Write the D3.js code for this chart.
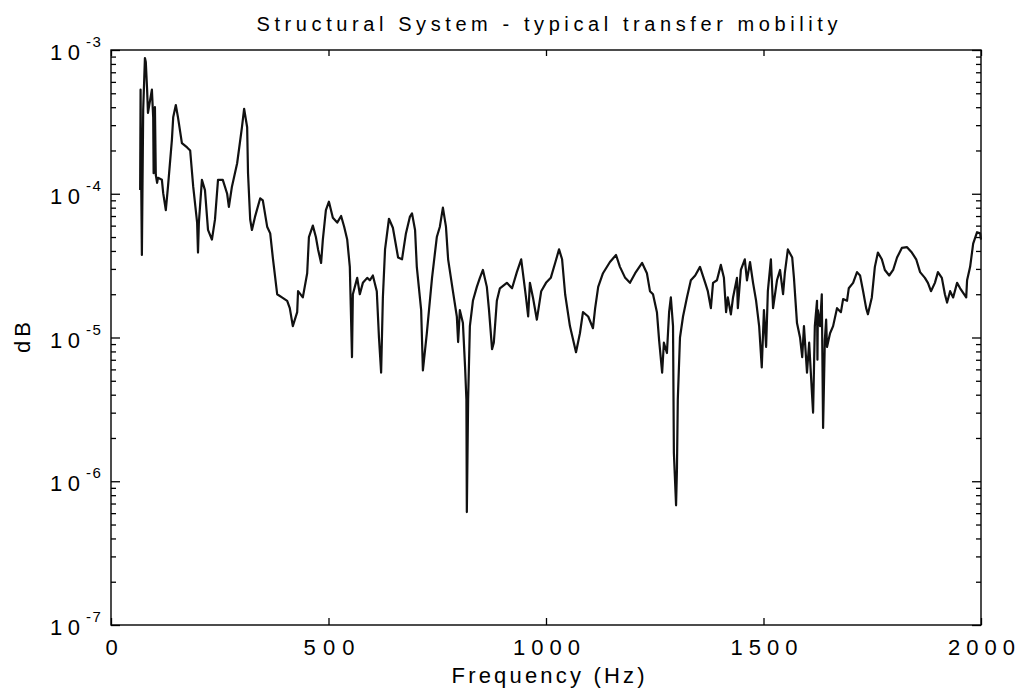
<!DOCTYPE html>
<html>
<head>
<meta charset="utf-8">
<script src="https://cdn.jsdelivr.net/npm/d3@7"></script>
<style>
  html, body { margin: 0; padding: 0; background: #fff; }
  svg { display: block; }
  text { font-family: "Liberation Sans", Arial, Helvetica, sans-serif; fill: #000; }
</style>
</head>
<body>
<svg id="chart" width="1018" height="692"></svg>
<script>
// ---- data ----
const titleText = "Structural System - typical transfer mobility";
const xLabelText = "Frequency (Hz)";
const yLabelText = "dB";
const xTickValues = [0, 500, 1000, 1500, 2000];
const yDecades = [1e-7, 1e-6, 1e-5, 1e-4, 1e-3];
const yDecadeExponents = [-7, -6, -5, -4, -3];

const freq = [
  67,68,69,71,74,78,80,83,85,90,
  94,97,98,101,103,106,108,117,120,126,
  131,140,143,149,154,163,175,182,189,198,
  200,202,209,216,223,232,239,246,257,267,
  271,278,290,301,306,313,315,320,324,331,
  343,349,359,366,372,382,393,405,411,418,
  428,430,441,451,455,464,471,476,483,487,
  494,501,510,520,529,536,543,549,554,556,
  566,572,579,589,595,602,611,616,621,625,
  630,639,648,660,669,678,687,692,699,703,
  713,717,726,738,749,756,763,770,775,786,
  795,798,802,809,814,817,818,821,825,832,
  841,848,855,864,869,876,880,887,894,910,
  922,933,943,947,954,959,963,970,979,989,
  1000,1011,1021,1030,1037,1044,1055,1069,1078,1085,
  1097,1108,1113,1120,1131,1147,1161,1170,1182,1193,
  1205,1221,1232,1239,1246,1255,1260,1267,1271,1278,
  1283,1287,1292,1294,1299,1301,1303,1308,1315,1324,
  1333,1343,1354,1366,1372,1379,1384,1393,1402,1409,
  1414,1418,1425,1430,1439,1441,1448,1457,1462,1469,
  1476,1483,1490,1496,1501,1506,1510,1517,1522,1531,
  1538,1545,1549,1556,1566,1570,1577,1584,1589,1593,
  1600,1605,1611,1614,1618,1623,1624,1625,1630,1634,
  1637,1641,1644,1646,1653,1660,1669,1678,1683,1692,
  1696,1706,1715,1722,1729,1736,1740,1749,1756,1763,
  1772,1779,1789,1798,1807,1818,1830,1841,1851,1860,
  1871,1878,1885,1894,1901,1910,1917,1922,1929,1936,
  1945,1952,1961,1966,1968,1975,1982,1991,1998,2000
];

const mobility = [
  1.06e-4,5.3e-4,1.72e-4,3.75e-5,3.82e-4,8.8e-4,8.25e-4,5.3e-4,3.65e-4,4.5e-4,
  5.3e-4,3.4e-4,1.39e-4,4.0e-4,1.35e-4,1.19e-4,1.29e-4,1.25e-4,1.01e-4,7.7e-5,
  1.12e-4,2.37e-4,3.4e-4,4.14e-4,3.4e-4,2.25e-4,2.1e-4,2.0e-4,1.12e-4,6.3e-5,
  3.9e-5,6.3e-5,1.25e-4,1.06e-4,5.6e-5,4.8e-5,6.6e-5,1.25e-4,1.25e-4,1.0e-4,
  8.1e-5,1.12e-4,1.63e-4,2.9e-4,3.9e-4,2.9e-4,1.39e-4,6.6e-5,5.6e-5,6.9e-5,
  9.3e-5,9.0e-5,5.9e-5,5.3e-5,3.6e-5,2.0e-5,1.9e-5,1.8e-5,1.6e-5,1.2e-5,
  1.5e-5,2.1e-5,1.9e-5,2.8e-5,5.0e-5,6.0e-5,5.0e-5,4.1e-5,3.3e-5,4.8e-5,
  7.7e-5,8.8e-5,6.8e-5,6.3e-5,7.0e-5,5.9e-5,4.8e-5,3.1e-5,7.3e-6,2.0e-5,
  2.6e-5,2.0e-5,2.4e-5,2.6e-5,2.5e-5,2.7e-5,2.1e-5,1.0e-5,5.7e-6,1.9e-5,
  4.1e-5,6.7e-5,5.8e-5,3.6e-5,3.5e-5,5.3e-5,6.9e-5,7.3e-5,5.6e-5,3.1e-5,
  1.55e-5,5.9e-6,1.07e-5,2.6e-5,5.0e-5,5.9e-5,8.0e-5,5.9e-5,3.5e-5,2.1e-5,
  1.4e-5,9.3e-6,1.55e-5,1.26e-5,6.2e-6,3.7e-6,6.1e-7,3.7e-6,1.2e-5,1.8e-5,
  2.25e-5,2.6e-5,2.95e-5,2.25e-5,1.55e-5,8.3e-6,9.2e-6,1.8e-5,2.2e-5,2.4e-5,
  2.2e-5,2.85e-5,3.5e-5,2.8e-5,1.9e-5,1.4e-5,2.4e-5,1.9e-5,1.33e-5,2.1e-5,
  2.4e-5,2.6e-5,3.3e-5,4.1e-5,3.5e-5,2.0e-5,1.2e-5,7.9e-6,1.07e-5,1.5e-5,
  1.4e-5,1.16e-5,1.6e-5,2.25e-5,2.8e-5,3.35e-5,3.75e-5,3.1e-5,2.6e-5,2.4e-5,
  2.8e-5,3.3e-5,2.8e-5,2.1e-5,2.0e-5,1.5e-5,9.6e-6,5.7e-6,9.2e-6,7.8e-6,
  1.5e-5,1.9e-5,1.2e-5,1.57e-6,6.8e-7,1.2e-6,3.7e-6,1.0e-5,1.4e-5,1.9e-5,
  2.5e-5,2.7e-5,3.1e-5,2.4e-5,2.1e-5,1.6e-5,2.4e-5,2.5e-5,3.2e-5,2.6e-5,
  1.5e-5,1.9e-5,1.45e-5,1.9e-5,2.6e-5,1.6e-5,2.95e-5,3.5e-5,2.5e-5,3.35e-5,
  2.4e-5,1.8e-5,1.2e-5,6.2e-6,1.55e-5,8.6e-6,2.1e-5,3.5e-5,1.6e-5,2.5e-5,
  2.95e-5,2.0e-5,2.8e-5,4.1e-5,3.6e-5,2.6e-5,1.26e-5,1.0e-5,7.3e-6,1.2e-5,
  5.7e-6,9.2e-6,4.3e-6,3.0e-6,1.2e-5,1.8e-5,7.0e-6,1.55e-5,1.2e-5,2.0e-5,
  2.35e-6,9.6e-6,1.33e-5,8.6e-6,1.07e-5,1.2e-5,1.6e-5,1.5e-5,1.85e-5,1.8e-5,
  2.2e-5,2.4e-5,2.85e-5,2.7e-5,2.1e-5,1.6e-5,1.45e-5,1.9e-5,3.1e-5,3.9e-5,
  3.5e-5,2.95e-5,2.7e-5,2.95e-5,3.6e-5,4.2e-5,4.25e-5,3.9e-5,3.5e-5,2.85e-5,
  2.6e-5,2.4e-5,2.1e-5,2.4e-5,2.85e-5,2.6e-5,2.0e-5,1.75e-5,2.1e-5,1.9e-5,
  2.4e-5,2.2e-5,2.0e-5,1.9e-5,2.5e-5,3.1e-5,4.5e-5,5.4e-5,5.3e-5,4.8e-5
];

// ---- layout ----
const plot = { left: 111, right: 981, top: 50, bottom: 625 };
const svg = d3.select("#chart");

const x = d3.scaleLinear().domain([0, 2000]).range([plot.left, plot.right]);
const y = d3.scaleLog().domain([1e-7, 1e-3]).range([plot.bottom, plot.top]);

const minorTicks = [];
yDecades.slice(0, -1).forEach(d => { for (let k = 2; k <= 9; k++) minorTicks.push(d * k); });

// frame
svg.append("rect")
  .attr("x", plot.left).attr("y", plot.top)
  .attr("width", plot.right - plot.left).attr("height", plot.bottom - plot.top)
  .attr("fill", "none").attr("stroke", "#000").attr("stroke-width", 1.4);

function styleAxis(g) {
  g.select(".domain").remove();
  g.selectAll(".tick line").attr("stroke", "#000").attr("stroke-width", 1.3);
}

// x axis bottom (labels) and top (ticks only)
const xLabelWidth = s => s.length === 1 ? 13 : (s.length === 3 ? 51 : 67);
svg.append("g")
  .attr("transform", `translate(0,${plot.bottom})`)
  .call(d3.axisBottom(x).tickValues(xTickValues).tickSizeInner(-7).tickSizeOuter(0).tickPadding(14).tickFormat(d3.format("d")))
  .call(styleAxis)
  .call(g => g.selectAll("text")
    .attr("font-size", 22)
    .attr("font-family", '"Liberation Sans", Arial, sans-serif')
    .attr("fill", "#000")
    .each(function () {
      const s = d3.select(this).text();
      if (s.length > 1) d3.select(this).attr("textLength", xLabelWidth(s)).attr("lengthAdjust", "spacing");
    }));

svg.append("g")
  .attr("transform", `translate(0,${plot.top})`)
  .call(d3.axisTop(x).tickValues(xTickValues).tickSizeInner(-6).tickSizeOuter(0).tickFormat(""))
  .call(styleAxis);

// y axes: majors and minors, left and right, pointing inward
[[plot.left, d3.axisLeft], [plot.right, d3.axisRight]].forEach(([xpos, ax]) => {
  svg.append("g").attr("transform", `translate(${xpos},0)`)
    .call(ax(y).tickValues(yDecades).tickSizeInner(-9).tickSizeOuter(0).tickFormat(""))
    .call(styleAxis);
  svg.append("g").attr("transform", `translate(${xpos},0)`)
    .call(ax(y).tickValues(minorTicks).tickSizeInner(-5).tickSizeOuter(0).tickFormat(""))
    .call(styleAxis);
});

// y tick labels 10^n
const yLab = svg.append("g");
yDecades.forEach((d, i) => {
  const t = yLab.append("text")
    .attr("x", 50)
    .attr("y", y(d) + 10)
    .attr("font-size", 22)
    .style("letter-spacing", "5.5px");
  t.append("tspan").text("10");
  t.append("tspan")
    .attr("x", 86)
    .attr("y", y(d) - 3)
    .attr("font-size", 15)
    .style("letter-spacing", "1.5px")
    .text(String(yDecadeExponents[i]));
});

// the curve
const data = d3.zip(freq, mobility);
const line = d3.line().x(d => x(d[0])).y(d => y(d[1]));
svg.append("path")
  .datum(data)
  .attr("d", line)
  .attr("fill", "none")
  .attr("stroke", "#111")
  .attr("stroke-width", 2.2)
  .attr("stroke-linejoin", "round");

// title and axis labels
svg.append("text")
  .attr("x", (plot.left + plot.right) / 2 + 1)
  .attr("y", 31)
  .attr("text-anchor", "middle")
  .attr("font-size", 20)
  .attr("textLength", 581)
  .attr("lengthAdjust", "spacing")
  .text(titleText);

svg.append("text")
  .attr("x", 548)
  .attr("y", 683)
  .attr("text-anchor", "middle")
  .attr("font-size", 22)
  .attr("textLength", 193)
  .attr("lengthAdjust", "spacing")
  .text(xLabelText);

svg.append("text")
  .attr("transform", `translate(30,${(plot.top + plot.bottom) / 2}) rotate(-90)`)
  .attr("text-anchor", "middle")
  .attr("font-size", 22)
  .attr("textLength", 31)
  .attr("lengthAdjust", "spacing")
  .text(yLabelText);
</script>
</body>
</html>
